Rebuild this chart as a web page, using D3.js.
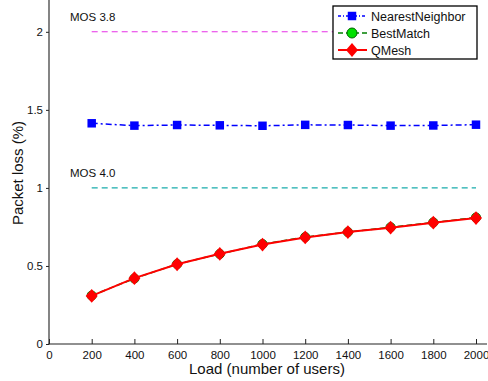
<!DOCTYPE html>
<html>
<head>
<meta charset="utf-8">
<script src="https://cdn.jsdelivr.net/npm/d3@7"></script>
<style>
  body { margin: 0; background: #fff; }
  svg { display: block; font-family: "Liberation Sans", Arial, sans-serif; }
</style>
</head>
<body>
<svg id="chart" width="488" height="381"></svg>
<script>
// data
var loads = [200, 400, 600, 800, 1000, 1200, 1400, 1600, 1800, 2000];
var nearestNeighbor = [1.414, 1.399, 1.403, 1.401, 1.398, 1.404, 1.403, 1.399, 1.400, 1.405];
var bestMatch = [0.310, 0.420, 0.512, 0.577, 0.640, 0.685, 0.717, 0.748, 0.779, 0.810];
var qMesh = [0.308, 0.422, 0.511, 0.578, 0.637, 0.683, 0.717, 0.745, 0.777, 0.807];
var xTicks = [0, 200, 400, 600, 800, 1000, 1200, 1400, 1600, 1800, 2000];
var yTicks = [0, 0.5, 1, 1.5, 2];
var mosLines = [{ label: "MOS 3.8", value: 2 }, { label: "MOS 4.0", value: 1 }];

var svg = d3.select('#chart');

var x = d3.scaleLinear().domain([0, 2000]).range([49, 476]);
var y = d3.scaleLinear().domain([0, 2.2]).range([344, 0.6]);

// MOS reference lines
var mosColor = ['#e830e8', '#18acac'];
mosLines.forEach(function(m, i) {
  svg.append('line')
    .attr('x1', x(200)).attr('x2', x(2000))
    .attr('y1', y(m.value)).attr('y2', y(m.value))
    .attr('stroke', mosColor[i]).attr('stroke-width', 1.1)
    .attr('stroke-dasharray', '6,4');
  svg.append('text')
    .attr('x', 70).attr('y', y(m.value) - 11)
    .attr('font-size', 11.5).attr('fill', '#111')
    .text(m.label);
});

// axes
var xAxis = svg.append('g')
  .attr('transform', 'translate(0,344)')
  .call(d3.axisBottom(x).tickValues(xTicks).tickSize(0).tickPadding(7).tickFormat(d3.format('d')));
xAxis.select('.domain').remove();
xAxis.selectAll('text').attr('font-size', 11.5).attr('fill', '#111');
xAxis.selectAll('.tick').append('line').attr('y2', -5).attr('stroke', '#222');

var yAxis = svg.append('g')
  .attr('transform', 'translate(49,0)')
  .call(d3.axisLeft(y).tickValues(yTicks).tickSize(3).tickPadding(3).tickFormat(d3.format('')));
yAxis.select('.domain').remove();
yAxis.selectAll('text').attr('font-size', 11.5).attr('fill', '#111');
yAxis.selectAll('line').attr('stroke', '#222');

svg.append('line').attr('x1', 49).attr('x2', 49).attr('y1', 0).attr('y2', 344.5)
  .attr('stroke', '#333').attr('stroke-width', 1.2);
svg.append('line').attr('x1', 48.5).attr('x2', 487).attr('y1', 344).attr('y2', 344)
  .attr('stroke', '#222').attr('stroke-width', 1.2);

// axis titles
svg.append('text')
  .attr('x', 267).attr('y', 374).attr('text-anchor', 'middle')
  .attr('font-size', 15).attr('fill', '#111')
  .text('Load (number of users)');
svg.append('text')
  .attr('transform', 'translate(23,173) rotate(-90)').attr('text-anchor', 'middle')
  .attr('font-size', 15).attr('fill', '#111')
  .text('Packet loss (%)');

var line = d3.line()
  .x(function(d, i) { return x(loads[i]); })
  .y(function(d) { return y(d); });

// wide matlab-like diamond: rotated square, stretched a bit vertically
var diamond = d3.symbol().type(d3.symbolSquare).size(72);
var diamondTf = ' scale(1,1.15) rotate(45)';
var square = d3.symbol().type(d3.symbolSquare).size(72);

// NearestNeighbor
svg.append('path').datum(nearestNeighbor)
  .attr('d', line).attr('fill', 'none')
  .attr('stroke', '#0000ff').attr('stroke-width', 1.5)
  .attr('stroke-dasharray', '6,3,2,3');
svg.selectAll('.nn').data(nearestNeighbor).enter().append('path')
  .attr('class', 'nn')
  .attr('d', square)
  .attr('transform', function(d, i) { return 'translate(' + x(loads[i]) + ',' + y(d) + ')'; })
  .attr('fill', '#0000ff');

// BestMatch
svg.append('path').datum(bestMatch)
  .attr('d', line).attr('fill', 'none')
  .attr('stroke', '#008000').attr('stroke-width', 1.5)
  .attr('stroke-dasharray', '6,3');
svg.selectAll('.bm').data(bestMatch).enter().append('circle')
  .attr('class', 'bm')
  .attr('cx', function(d, i) { return x(loads[i]); })
  .attr('cy', function(d) { return y(d); })
  .attr('r', 4.6)
  .attr('fill', '#00e000').attr('stroke', '#006400').attr('stroke-width', 1);

// QMesh
svg.append('path').datum(qMesh)
  .attr('d', line).attr('fill', 'none')
  .attr('stroke', '#ff0000').attr('stroke-width', 2);
svg.selectAll('.qm').data(qMesh).enter().append('path')
  .attr('class', 'qm')
  .attr('d', diamond)
  .attr('transform', function(d, i) { return 'translate(' + x(loads[i]) + ',' + y(d) + ')' + diamondTf; })
  .attr('fill', '#ff0000');

// legend
var legendItems = [
  { name: 'NearestNeighbor', color: '#0000ff', dash: '3,2,1,2', marker: 'square' },
  { name: 'BestMatch', color: '#008000', dash: '5,3', marker: 'circle' },
  { name: 'QMesh', color: '#ff0000', dash: null, marker: 'diamond' }
];
var legend = svg.append('g');
legend.append('rect')
  .attr('x', 333).attr('y', 6).attr('width', 144).attr('height', 53)
  .attr('fill', '#fff').attr('stroke', '#000').attr('stroke-width', 1.3);

legendItems.forEach(function(it, i) {
  var ly = 16 + i * 17;
  legend.append('line')
    .attr('x1', 338).attr('x2', 367).attr('y1', ly).attr('y2', ly)
    .attr('stroke', it.color).attr('stroke-width', it.marker === 'diamond' ? 2 : 1.5)
    .attr('stroke-dasharray', it.dash);
  if (it.marker === 'square') {
    legend.append('path').attr('d', square)
      .attr('transform', 'translate(352,' + ly + ')').attr('fill', '#0000ff');
  } else if (it.marker === 'circle') {
    legend.append('circle').attr('cx', 352).attr('cy', ly).attr('r', 5)
      .attr('fill', '#00e000').attr('stroke', '#006400');
  } else {
    legend.append('path').attr('d', diamond)
      .attr('transform', 'translate(352,' + ly + ')' + diamondTf).attr('fill', '#ff0000');
  }
  legend.append('text')
    .attr('x', 371).attr('y', ly + 4.5)
    .attr('font-size', 12.5).attr('fill', '#111')
    .text(it.name);
});
</script>
</body>
</html>
